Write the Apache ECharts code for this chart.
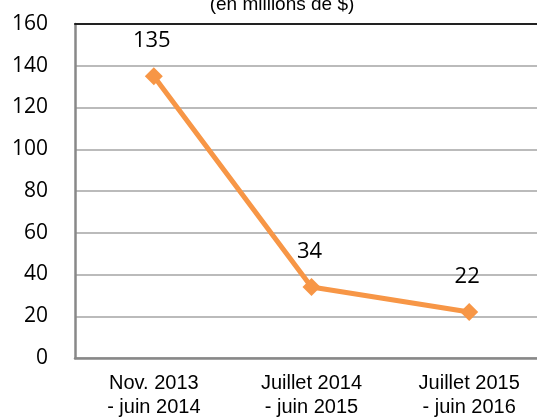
<!DOCTYPE html>
<html>
<head>
<meta charset="utf-8">
<script src="https://cdn.jsdelivr.net/npm/echarts@6/dist/echarts.min.js"></script>
<style>
  html, body { margin: 0; padding: 0; background: #fff; }
  #chart { width: 537px; height: 419px; }
</style>
</head>
<body>
<div id="chart"></div>
<script>
// 数据
const categories = ['Nov. 2013\n- juin 2014', 'Juillet 2014\n- juin 2015', 'Juillet 2015\n- juin 2016'];
const values = [135, 34, 22];
const yTicks = [0, 20, 40, 60, 80, 100, 120, 140, 160];

let chart = echarts.init(document.getElementById('chart'));
let option = {
    animation: false,
    title: {
        text: '(en millions de $)',
        left: 277,
        textAlign: 'center',
        top: -10,
        textStyle: {
            fontFamily: 'Liberation Sans',
            fontSize: 19,
            fontWeight: 'normal',
            color: '#000'
        }
    },
    grid: {
        left: 75,
        right: -11,
        top: 24,
        bottom: 61,
        outerBoundsMode: 'none'
    },
    xAxis: [
        {
            type: 'category',
            data: categories,
            boundaryGap: true,
            axisLine: { lineStyle: { color: '#888', width: 2.5 } },
            axisTick: { show: false },
            axisLabel: {
                fontFamily: 'Liberation Sans',
                fontSize: 20,
                color: '#000',
                margin: 13,
                lineHeight: 24
            }
        },
        {
            // 顶部深色边线
            type: 'category',
            position: 'top',
            data: categories,
            axisLine: { lineStyle: { color: '#222', width: 2 } },
            axisTick: { show: false },
            axisLabel: { show: false }
        }
    ],
    yAxis: {
        type: 'value',
        min: yTicks[0],
        max: yTicks[yTicks.length - 1],
        interval: 20,
        axisLine: { show: true, lineStyle: { color: '#888', width: 2.5 } },
        axisTick: { show: false },
        axisLabel: {
            fontFamily: 'Open Sans',
            fontSize: 21,
            color: '#000',
            margin: 27
        },
        splitLine: { lineStyle: { color: '#bbb', width: 2 } }
    },
    series: [
        {
            type: 'line',
            data: values,
            symbol: 'diamond',
            symbolSize: 18,
            lineStyle: { color: '#F79646', width: 5 },
            itemStyle: { color: '#F79646' },
            label: {
                show: true,
                position: 'top',
                distance: 15,
                offset: [-2, 0],
                fontFamily: 'Open Sans',
                fontSize: 22,
                color: '#000'
            }
        }
    ]
};
option && chart.setOption(option);
</script>
</body>
</html>
